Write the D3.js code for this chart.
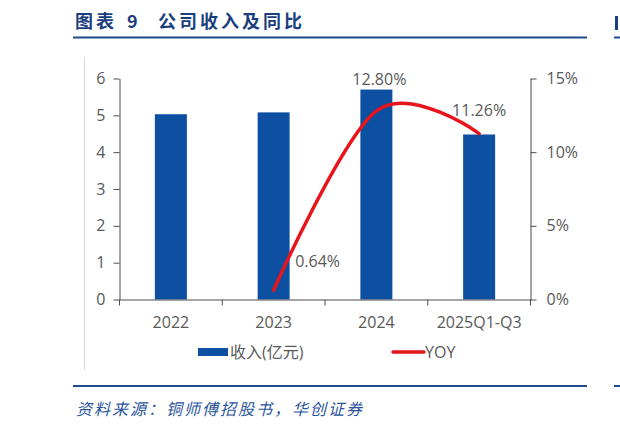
<!DOCTYPE html>
<html>
<head>
<meta charset="utf-8">
<script src="https://cdn.jsdelivr.net/npm/d3@7"></script>
<style>
  body { margin: 0; background: #fff; }
  svg text { font-family: "Open Sans", "Noto Sans CJK SC", sans-serif; }
</style>
</head>
<body>
<div id="graf"></div>
<script>
// Datos
categorias = ['2022', '2023', '2024', '2025Q1-Q3']
ingresos   = [5.03, 5.08, 5.70, 4.48]          // 收入(亿元)
yoy        = [null, 0.0064, 0.128, 0.1126]     // YOY
etiquetasYoy = ['', '0.64%', '12.80%', '11.26%']
ticksIzq   = [0, 1, 2, 3, 4, 5, 6]
ticksDer   = [0, 0.05, 0.10, 0.15]

tituloPartes = ['图表', '9', '公司收入及同比']
fuente  = '资料来源：铜师傅招股书，华创证券'

// Colores
azul = '#0D4FA1'
rojo = '#E8141C'
gris = '#595959'

ancho_total = 620
alto_total  = 426

svg = d3.select('#graf').append('svg')
        .attr('width', ancho_total)
        .attr('height', alto_total)

/***** Encabezado y pie *****/
tituloX = [75, 127, 158]
svg.append('g').selectAll('text')
   .data(tituloPartes)
   .enter()
   .append('text')
   .attr('x', (d, i) => tituloX[i]).attr('y', 28)
   .style('font-family', '"Noto Sans CJK SC", sans-serif')
   .style('font-weight', 'bold')
   .style('font-size', '18px')
   .style('letter-spacing', '3px')
   .style('fill', '#1B3F7E')
   .text(d => d)

svg.append('line')
   .attr('x1', 73).attr('x2', 587).attr('y1', 37.5).attr('y2', 37.5)
   .style('stroke', '#1E4B8C').style('stroke-width', 2)
svg.append('line')
   .attr('x1', 614).attr('x2', 620).attr('y1', 37.5).attr('y2', 37.5)
   .style('stroke', '#1E4B8C').style('stroke-width', 2)
svg.append('rect')
   .attr('x', 615).attr('y', 16).attr('width', 3).attr('height', 14)
   .style('fill', '#1B3F7E')

svg.append('line')
   .attr('x1', 73).attr('x2', 587).attr('y1', 386).attr('y2', 386)
   .style('stroke', '#1E4B8C').style('stroke-width', 2)
svg.append('line')
   .attr('x1', 614).attr('x2', 620).attr('y1', 386).attr('y2', 386)
   .style('stroke', '#1E4B8C').style('stroke-width', 2)

svg.append('text')
   .attr('x', 76).attr('y', 415)
   .style('font-family', '"Noto Sans CJK SC", sans-serif')
   .style('font-style', 'italic')
   .style('font-size', '16px')
   .style('letter-spacing', '2px')
   .style('fill', '#2A559C')
   .text(fuente)

// Borde izquierdo del area del grafico
svg.append('line')
   .attr('x1', 84.5).attr('x2', 84.5).attr('y1', 57).attr('y2', 370)
   .style('stroke', '#d9d9d9').style('stroke-width', 1)

/***** Escalas *****/
x = d3.scaleBand()
      .domain(categorias)
      .range([119.5, 530.5])
      .padding(0)

anchoBarra = 32

yIzq = d3.scaleLinear().domain([0, 6]).range([299.5, 78.5])
yDer = d3.scaleLinear().domain([0, 0.15]).range([299.5, 78.5])

/***** Barras *****/
svg.append('g').selectAll('rect')
   .data(ingresos)
   .enter()
   .append('rect')
   .attr('x', (d, i) => x(categorias[i]) + x.bandwidth() / 2 - anchoBarra / 2)
   .attr('y', d => yIzq(d))
   .attr('width', anchoBarra)
   .attr('height', d => yIzq(0) - yIzq(d))
   .style('fill', azul)

/***** Ejes *****/
ejeIzq = svg.append('g')
            .attr('transform', `translate(${x.range()[0]}, 0)`)
            .call(d3.axisLeft(yIzq).tickValues(ticksIzq).tickSize(6).tickSizeOuter(0).tickPadding(8)
                    .tickFormat(d3.format('d')))

ejeDer = svg.append('g')
            .attr('transform', `translate(${x.range()[1]}, 0)`)
            .call(d3.axisRight(yDer).tickValues(ticksDer).tickSize(6).tickSizeOuter(0).tickPadding(10)
                    .tickFormat(d => Math.round(d * 100) + '%'))

ejeX = svg.append('g')
          .attr('transform', `translate(0, ${yIzq(0)})`)
          .call(d3.axisBottom(x).tickSize(0).tickSizeOuter(0).tickPadding(17))

// Marcas del eje X en los limites de cada categoria
limites = categorias.map(c => x(c)).concat([x.range()[1]])
ejeX.selectAll('.limite')
    .data(limites)
    .enter()
    .append('line')
    .attr('class', 'limite')
    .attr('x1', d => d).attr('x2', d => d)
    .attr('y1', 0).attr('y2', 6)
    .style('stroke', '#4d4d4d')

;[ejeIzq, ejeDer, ejeX].forEach(eje => {
  eje.selectAll('path, line').style('stroke', '#4d4d4d')
  eje.selectAll('text').style('fill', gris).style('font-size', '16px')
     .style('font-family', '"Open Sans", sans-serif')
})

/***** Linea YOY *****/
puntos = yoy.map((d, i) => ({ cat: categorias[i], v: d, etiqueta: etiquetasYoy[i] }))
            .filter(d => d.v !== null)

linea = d3.line()
          .x(d => x(d.cat) + x.bandwidth() / 2)
          .y(d => yDer(d.v))
          .curve(d3.curveCardinal.tension(0))

svg.append('path')
   .datum(puntos)
   .attr('d', linea)
   .style('fill', 'none')
   .style('stroke', rojo)
   .style('stroke-width', 3.5)
   .style('stroke-linecap', 'round')

// Desplazamiento de cada etiqueta respecto a su punto
desplaza = [[44, -23], [3, -26], [0, -18]]

svg.append('g').selectAll('text')
   .data(puntos)
   .enter()
   .append('text')
   .attr('x', (d, i) => x(d.cat) + x.bandwidth() / 2 + desplaza[i][0])
   .attr('y', (d, i) => yDer(d.v) + desplaza[i][1])
   .attr('text-anchor', 'middle')
   .style('font-size', '16px')
   .style('fill', gris)
   .text(d => d.etiqueta)

/***** Leyenda *****/
leyenda = svg.append('g').attr('transform', 'translate(0, 352)')

leyenda.append('rect')
       .attr('x', 198).attr('y', -4).attr('width', 30).attr('height', 8)
       .style('fill', azul)
leyenda.append('text')
       .attr('x', 230).attr('y', 0).attr('dy', '0.35em')
       .style('font-size', '16px').style('fill', gris)
       .text('收入(亿元)')

leyenda.append('line')
       .attr('x1', 393).attr('x2', 424).attr('y1', 0).attr('y2', 0)
       .style('stroke', rojo).style('stroke-width', 3.5)
       .style('stroke-linecap', 'round')
leyenda.append('text')
       .attr('x', 425).attr('y', 0).attr('dy', '0.35em')
       .style('font-size', '16px').style('fill', gris)
       .text('YOY')
</script>
</body>
</html>
